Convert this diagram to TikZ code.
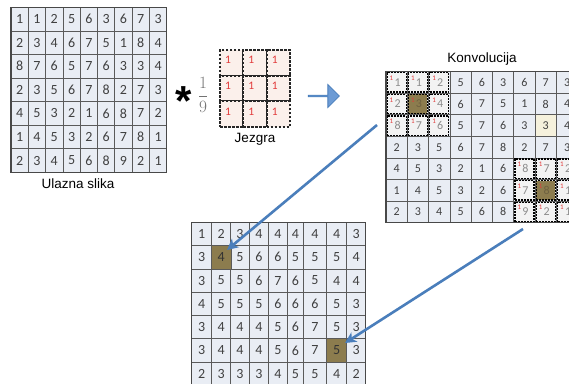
\documentclass[tikz,border=0pt]{standalone}
\usepackage{fontspec}
\setmainfont{Liberation Sans}
\newfontfamily\calib{Carlito}
\usetikzlibrary{arrows.meta,shapes.arrows,calc}
\definecolor{cellbg}{HTML}{E9EDF4}
\definecolor{gridline}{HTML}{5A5A5A}
\definecolor{digit}{HTML}{404040}
\definecolor{wdigit}{HTML}{8C8C8C}
\definecolor{winbg}{HTML}{F3F3F3}
\definecolor{kernbg}{HTML}{FBF0EB}
\definecolor{redone}{HTML}{E23A3A}
\definecolor{hlolive}{HTML}{8C7C4E}
\definecolor{olivetext}{HTML}{6E6141}
\definecolor{creamcell}{HTML}{F5F1DC}
\definecolor{arrowblue}{HTML}{4A7EBB}
\definecolor{blockfill}{HTML}{6C9BD5}
\tikzset{
  basecell/.style={draw=gridline, line width=0.7pt, fill=cellbg, inner sep=0pt, outer sep=0pt, text=digit},
  lcell/.style={basecell, anchor=north west, minimum width=17.3pt, minimum height=23.57pt, font=\calib\fontsize{14}{14}\selectfont},
  kcell/.style={basecell, anchor=north west, minimum width=21.3pt, minimum height=21.57pt, font=\calib\fontsize{12}{12}\selectfont},
  bcell/.style={basecell, anchor=north west, minimum height=23.3pt, font=\calib\fontsize{14}{14}\selectfont},
  wcell/.style={draw=black, dashed, dash pattern=on 2pt off 1pt, line width=1.3pt, fill=winbg, inner sep=0pt, outer sep=0pt, minimum width=19pt, minimum height=19.3pt, text=wdigit, font=\calib\fontsize{12}{12}\selectfont},
  kerncell/.style={draw=black!85, dash pattern=on 2.6pt off 1.4pt, line width=1.8pt, fill=kernbg, inner sep=0pt, outer sep=0pt, anchor=north west, minimum width=23.33pt, minimum height=25.67pt},
  smallone/.style={text=redone, inner sep=0pt, font=\calib\fontsize{7}{7}\selectfont},
  kernone/.style={text=redone, inner sep=0pt, font=\calib\fontsize{11.5}{11.5}\selectfont},
  outerframe/.style={draw=gridline!80!black, line width=1.3pt},
  lbl/.style={inner sep=0pt, font=\fontsize{13.5}{14}\selectfont},
  bluearrow/.style={draw=arrowblue, line width=2.6pt, -{Stealth[length=11pt,width=11pt,inset=3pt]}},
}
\begin{document}
\begin{tikzpicture}[x=1pt,y=-1pt]
\useasboundingbox (0,0) rectangle (569,383);
\clip (0,0) rectangle (569,383);

% ---------- input image ----------
\foreach \row [count=\r] in {{1,1,2,5,6,3,6,7,3},{2,3,4,6,7,5,1,8,4},{8,7,6,5,7,6,3,3,4},{2,3,5,6,7,8,2,7,3},{4,5,3,2,1,6,8,7,2},{1,4,5,3,2,6,7,8,1},{2,3,4,5,6,8,9,2,1}}{
  \foreach \v [count=\c] in \row {
    \node[lcell] (L-\r-\c) at ({11+(\c-1)*17.3},{7.3+(\r-1)*23.57}) {\v};
  }
}
\draw[outerframe] (L-1-1.north west) rectangle (L-7-9.south east);
\node[lbl] (inlabel) at (78,184) {Ulazna slika};

% ---------- star and 1/9 ----------
\node[inner sep=0pt, anchor=base, font=\bfseries\fontsize{42}{42}\selectfont] (star) at (184,115) {*};
\node[inner sep=0pt, text=black!55, font=\fontsize{18}{20}\selectfont] (frac) at (203,95) {$\displaystyle\frac{1}{9}$};

% ---------- kernel ----------
\foreach \r in {1,2,3}{
  \foreach \c in {1,2,3}{
    \node[kerncell] (J-\r-\c) at ({220+(\c-1)*23.33},{50+(\r-1)*25.67}) {};
    \node[kernone] (J1-\r-\c) at ($(J-\r-\c.north west)+(8,10)$) {1};
  }
}
\node[lbl] (kernlabel) at (255,139) {Jezgra};

% ---------- block arrow ----------
\node[single arrow, draw=arrowblue, line width=0.8pt, fill=blockfill, minimum height=31pt, minimum width=23pt, single arrow head extend=5.5pt, single arrow head indent=0pt, inner sep=0pt] (blk) at (323.5,96) {};

% ---------- convolution ----------
\foreach \row [count=\r] in {{1,1,2,5,6,3,6,7,3},{2,3,4,6,7,5,1,8,4},{8,7,6,5,7,6,3,3,4},{2,3,5,6,7,8,2,7,3},{4,5,3,2,1,6,8,7,2},{1,4,5,3,2,6,7,8,1},{2,3,4,5,6,8,9,2,1}}{
  \foreach \v [count=\c] in \row {
    \node[kcell] (K-\r-\c) at ({386+(\c-1)*21.3},{71.7+(\r-1)*21.57}) {\v};
  }
}
\draw[outerframe] (K-1-1.north west) rectangle (K-7-9.south east);
\node[kcell, anchor=center, fill=creamcell] (K-3-8-hl) at (K-3-8.center) {3};
\foreach \r/\c/\v in {1/1/1,1/2/1,1/3/2,2/1/2,2/3/4,3/1/8,3/2/7,3/3/6,5/7/8,5/8/7,5/9/2,6/7/7,6/9/1,7/7/9,7/8/2,7/9/1}{
  \node[wcell] (W-\r-\c) at (K-\r-\c.center) {\hspace{2pt}\v};
  \node[smallone] (W1-\r-\c) at ($(K-\r-\c.north west)+(5.5,6.5)$) {1};
}
\foreach \r/\c/\v in {2/2/3,6/8/8}{
  \node[wcell, fill=hlolive, text=olivetext] (W-\r-\c) at (K-\r-\c.center) {\hspace{2pt}\v};
  \node[smallone] (W1-\r-\c) at ($(K-\r-\c.north west)+(5.5,6.5)$) {1};
}
\node[lbl] (convlabel) at (482,59) {Konvolucija};

% ---------- output ----------
\foreach \row [count=\r] in {{1,2,3,4,4,4,4,4,3},{3,4,5,6,6,5,5,5,4},{3,5,5,6,7,6,5,4,4},{4,5,5,5,6,6,6,5,3},{3,4,4,4,5,6,7,5,3},{3,4,4,4,5,6,7,5,3},{2,3,3,3,4,5,5,4,2}}{
  \foreach \v [count=\c] in \row {
    \pgfmathsetmacro\bx{{191.7,211.7,230.7,249.3,268.3,287.3,303.3,326.7,346.7,365.7}[\c-1]}
    \pgfmathsetmacro\bw{{191.7,211.7,230.7,249.3,268.3,287.3,303.3,326.7,346.7,365.7}[\c]-\bx}
    \node[bcell, minimum width=\bw pt] (B-\r-\c) at (\bx,{222.3+(\r-1)*23.3}) {\v};
  }
}
\node[bcell, anchor=center, minimum width=20pt, fill=hlolive, text=black!80] (B-2-2-hl) at (B-2-2.center) {4};
\node[bcell, anchor=center, minimum width=20pt, fill=hlolive, text=black!80] (B-6-8-hl) at (B-6-8.center) {5};
\draw[outerframe] (B-1-1.north west) rectangle (B-7-9.south east);

% ---------- arrows ----------
\coordinate (a1s) at (377,125);
\coordinate (a1e) at (227,250);
\coordinate (a2s) at (523,229);
\coordinate (a2e) at (345,343);
\draw[bluearrow] (a1s) -- (a1e);
\draw[bluearrow] (a2s) -- (a2e);
\end{tikzpicture}
\end{document}
